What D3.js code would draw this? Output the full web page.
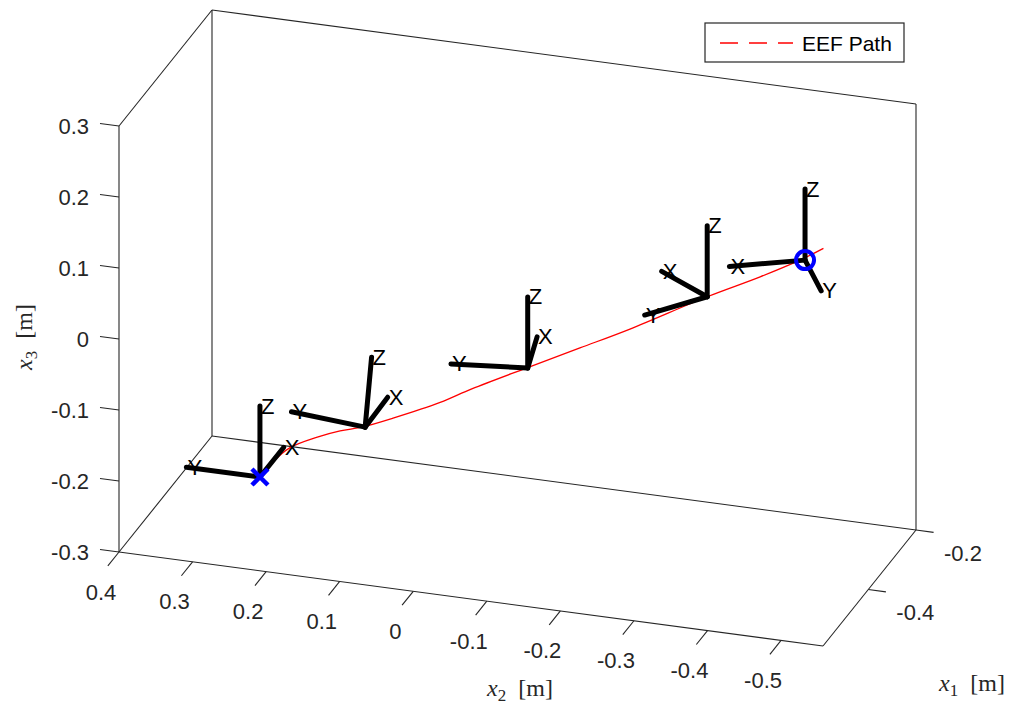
<!DOCTYPE html>
<html>
<head>
<meta charset="utf-8">
<script src="https://cdn.jsdelivr.net/npm/d3@7"></script>
<style>
  body { margin: 0; background: #fff; }
  text { font-family: "Liberation Sans", Arial, sans-serif; }
  .tex { font-family: "Liberation Serif", "Times New Roman", serif; }
</style>
</head>
<body>
<script>
// Axis limits and ticks.
const x1Lim = [-0.59, -0.2];
const x2Lim = [0.4, -0.557];
const x3Lim = [-0.3, 0.3];
const x1Ticks = [-0.4, -0.2];
const x2Ticks = [0.4, 0.3, 0.2, 0.1, 0, -0.1, -0.2, -0.3, -0.4, -0.5];
const x3Ticks = [-0.3, -0.2, -0.1, 0, 0.1, 0.2, 0.3];

// End effector path.
const pathX1 = [-0.4, -0.4, -0.4, -0.4, -0.4, -0.4, -0.4, -0.4, -0.4, -0.4, -0.4, -0.4, -0.4, -0.4, -0.4, -0.4];
const pathX2 = [0.270, 0.254, 0.229, 0.192, 0.161, 0.130, 0.089, 0.025, -0.018, -0.093, -0.165, -0.233, -0.338, -0.410, -0.464, -0.496];
const pathX3 = [-0.256, -0.234, -0.209, -0.189, -0.176, -0.166, -0.148, -0.117, -0.092, -0.052, -0.014, 0.022, 0.082, 0.120, 0.151, 0.172];

// Start and goal markers.
const startPoint = [-0.4, 0.270, -0.256];
const goalPoint = [-0.4, -0.471, 0.152];

// Coordinate frames drawn along the path.
const frameX1 = [-0.4, -0.4, -0.4, -0.4, -0.4];
const frameX2 = [0.270, 0.127, -0.094, -0.338, -0.471];
const frameX3 = [-0.256, -0.166, -0.052, 0.082, 0.152];
const frameYaw = [0, 1, 11, 54, 120]; // deg, about x3
const frameRoll = [0, 5, 0, 0, 0];   // deg, about local X
const frameLen = 0.1;

const W = 1014, H = 706;
const ink = '#262626';

const svg = d3.select('body').append('svg')
    .attr('width', W)
    .attr('height', H)
    .style('display', 'block');

svg.append('rect').attr('width', W).attr('height', H).attr('fill', '#fff');

// Scales to normalized box coordinates.
const s1 = d3.scaleLinear().domain(x1Lim).range([0, 1]);
const s2 = d3.scaleLinear().domain(x2Lim).range([0, 1]);
const s3 = d3.scaleLinear().domain(x3Lim).range([0, 1]);

// Screen vectors of the box edges (orthographic view).
const o = [119, 552];
const e1 = [93, -116];
const e2 = [704, 94];
const e3 = [0, -426];

function projN(a, b, c) {
    return [o[0] + a * e1[0] + b * e2[0] + c * e3[0],
            o[1] + a * e1[1] + b * e2[1] + c * e3[1]];
}
function proj(p) { return projN(s1(p[0]), s2(p[1]), s3(p[2])); }

// Box (back planes) and axis lines.
const edges = [
    [[0, 0, 0], [0, 0, 1]],
    [[0, 0, 0], [0, 1, 0]],
    [[0, 1, 0], [1, 1, 0]],
    [[1, 1, 0], [1, 1, 1]],
    [[1, 1, 1], [1, 0, 1]],
    [[1, 0, 1], [1, 0, 0]],
    [[1, 0, 1], [0, 0, 1]],
    [[0, 0, 0], [1, 0, 0]],
    [[1, 0, 0], [1, 1, 0]]
];
svg.append('g').selectAll('line')
    .data(edges)
    .join('line')
    .attr('x1', d => projN(...d[0])[0])
    .attr('y1', d => projN(...d[0])[1])
    .attr('x2', d => projN(...d[1])[0])
    .attr('y2', d => projN(...d[1])[1])
    .attr('stroke', ink)
    .attr('stroke-width', 1.1);

// MATLAB style labels use a plain hyphen for the minus sign.
const fmt = v => (v === 0 ? '0' : d3.format('.1f')(v).replace('\u2212', '-'));
const tickG = svg.append('g');
const tickFont = 22;

// x3 ticks (front-left vertical).
x3Ticks.forEach(v => {
    const p = projN(0, 0, s3(v)), q = projN(0, -0.027, s3(v));
    tickG.append('line').attr('x1', p[0]).attr('y1', p[1]).attr('x2', q[0]).attr('y2', q[1])
        .attr('stroke', ink).attr('stroke-width', 1.1);
    tickG.append('text').attr('x', p[0] - 30).attr('y', p[1])
        .attr('text-anchor', 'end').attr('dominant-baseline', 'central')
        .attr('font-size', tickFont).attr('fill', ink).text(fmt(v));
});

// x2 ticks (front bottom edge).
x2Ticks.forEach(v => {
    const p = projN(0, s2(v), 0), q = projN(-0.12, s2(v), 0);
    tickG.append('line').attr('x1', p[0]).attr('y1', p[1]).attr('x2', q[0]).attr('y2', q[1])
        .attr('stroke', ink).attr('stroke-width', 1.1);
    tickG.append('text').attr('x', p[0] - 18).attr('y', p[1] + 40)
        .attr('text-anchor', 'middle').attr('dominant-baseline', 'central')
        .attr('font-size', tickFont).attr('fill', ink).text(fmt(v));
});

// x1 ticks (right bottom edge).
x1Ticks.forEach(v => {
    const p = projN(s1(v), 1, 0), q = projN(s1(v), 1.025, 0);
    tickG.append('line').attr('x1', p[0]).attr('y1', p[1]).attr('x2', q[0]).attr('y2', q[1])
        .attr('stroke', ink).attr('stroke-width', 1.1);
    tickG.append('text').attr('x', p[0] + 47).attr('y', p[1] + 23)
        .attr('text-anchor', 'middle').attr('dominant-baseline', 'central')
        .attr('font-size', tickFont).attr('fill', ink).text(fmt(v));
});

// Axis labels (LaTeX style).
function texLabel(x, y, sub, rot) {
    const t = svg.append('text').attr('class', 'tex')
        .attr('x', x).attr('y', y)
        .attr('text-anchor', 'middle')
        .attr('font-size', 24).attr('fill', ink);
    if (rot) t.attr('transform', `rotate(-90,${x},${y})`);
    t.append('tspan').attr('font-style', 'italic').text('x');
    t.append('tspan').attr('font-size', 17).attr('dy', 5).text(sub);
    t.append('tspan').attr('dy', -5).text('\u2002[m]');
}
texLabel(520, 696, '2', false);
texLabel(972, 691, '1', false);
texLabel(32, 337, '3', true);

// EEF path.
const pathPts = pathX1.map((v, i) => proj([v, pathX2[i], pathX3[i]]));
svg.append('path')
    .attr('d', d3.line().curve(d3.curveCatmullRom)(pathPts))
    .attr('fill', 'none')
    .attr('stroke', '#ff0000')
    .attr('stroke-width', 1.3);

// Frames.
const rad = Math.PI / 180;
const frames = frameX1.map((v, i) => {
    const y = frameYaw[i] * rad, r = frameRoll[i] * rad;
    const axes = {
        X: [Math.cos(y), Math.sin(y), 0],
        Y: [-Math.sin(y) * Math.cos(r), Math.cos(y) * Math.cos(r), Math.sin(r)],
        Z: [Math.sin(y) * Math.sin(r), -Math.cos(y) * Math.sin(r), Math.cos(r)]
    };
    const org = [v, frameX2[i], frameX3[i]];
    return Object.keys(axes).map(k => ({
        name: k,
        from: proj(org),
        to: proj(org.map((c, j) => c + frameLen * axes[k][j]))
    }));
}).flat();

const frameG = svg.append('g');
frameG.selectAll('line')
    .data(frames)
    .join('line')
    .attr('x1', d => d.from[0]).attr('y1', d => d.from[1])
    .attr('x2', d => d.to[0]).attr('y2', d => d.to[1])
    .attr('stroke', '#000')
    .attr('stroke-width', 5)
    .attr('stroke-linecap', 'round');

// Start / goal markers.
const sp = proj(startPoint), gp = proj(goalPoint);
svg.append('path')
    .attr('d', `M${sp[0] - 8},${sp[1] - 8}L${sp[0] + 8},${sp[1] + 8}M${sp[0] - 8},${sp[1] + 8}L${sp[0] + 8},${sp[1] - 8}`)
    .attr('stroke', '#0000ff').attr('stroke-width', 4.5).attr('fill', 'none');
svg.append('circle')
    .attr('cx', gp[0]).attr('cy', gp[1]).attr('r', 9)
    .attr('stroke', '#0000ff').attr('stroke-width', 4).attr('fill', 'none');

frameG.selectAll('text')
    .data(frames)
    .join('text')
    .attr('x', d => d.to[0] + 1)
    .attr('y', d => d.to[1])
    .attr('dominant-baseline', 'central')
    .attr('font-size', 22)
    .attr('fill', '#000')
    .text(d => d.name);

// Legend.
const lg = svg.append('g');
lg.append('rect').attr('x', 705).attr('y', 23).attr('width', 199).attr('height', 39)
    .attr('fill', '#fff').attr('stroke', ink).attr('stroke-width', 1.2);
lg.append('line').attr('x1', 720).attr('x2', 793).attr('y1', 43).attr('y2', 43)
    .attr('stroke', '#ff0000').attr('stroke-width', 1.3).attr('stroke-dasharray', '18,11');
lg.append('text').attr('x', 802).attr('y', 43).attr('dominant-baseline', 'central')
    .attr('font-size', 21).attr('fill', '#000').text('EEF Path');
</script>
</body>
</html>
